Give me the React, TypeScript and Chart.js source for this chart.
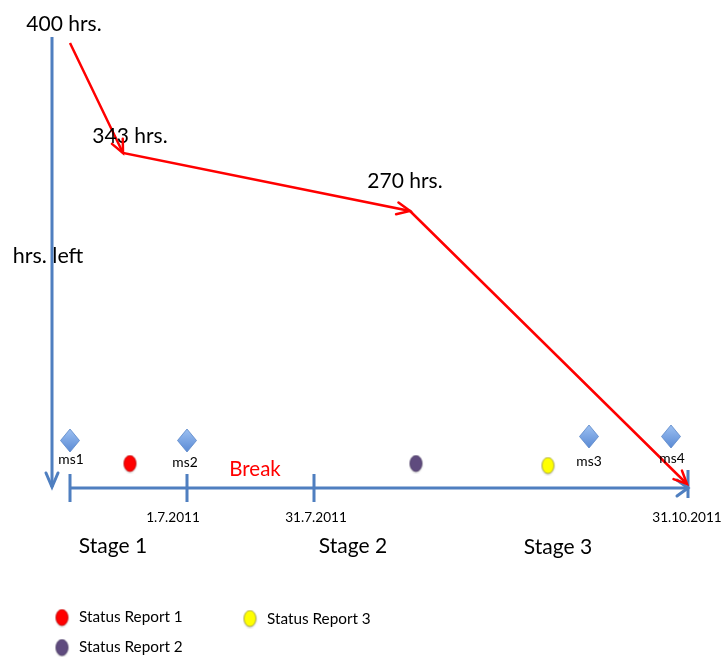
import React, { useEffect, useRef } from 'react';
import { Chart, registerables } from 'chart.js';

Chart.register(...registerables);

const W = 723;
const H = 657;
const FONT = 'Lato, "Open Sans", sans-serif';

// Schematic diagram coordinates (diagram units on both axes)
const burndownLabels = ['400 hrs.', '343 hrs.', '270 hrs.', ''];
const burndownX = [70, 123, 410, 687];
const burndownY = [43, 153, 211, 484];
const burndownLabelX = [64, 130, 405, 0];
const burndownLabelY = [24, 136, 181, 0];

const hoursAxisX = [52, 52];
const hoursAxisY = [37, 487];
const timeAxisX = [70, 688];
const timeAxisY = [488, 488];

const tickX = [70, 187, 314, 688];
const tickTop = [474, 474, 474, 470];
const tickBottom = [502, 502, 502, 498];
const dateLabels = ['', '1.7.2011', '31.7.2011', '31.10.2011'];
const dateLabelX = [0, 173, 316, 687];
const dateLabelY = 518;

const milestoneNames = ['ms1', 'ms2', 'ms3', 'ms4'];
const milestoneX = [70, 187, 589, 671];
const milestoneY = [441, 441, 437, 437];
const milestoneLabelX = [71, 185, 589, 672];
const milestoneLabelY = [460, 463, 462, 459];

const reportNames = ['Status Report 1', 'Status Report 2', 'Status Report 3'];
const reportColors = ['#ff0000', '#5f4b7e', '#ffff00'];
const reportBorders = ['#c00000', '#4a3a66', '#9a9a40'];
const reportX = [130, 416, 548];
const reportY = [464, 464, 466];

const legendX = [62, 62, 250];
const legendY = [618, 648, 619];
const legendTextX = [79, 79, 267];
const legendTextY = [617, 647, 619];

const stageNames = ['Stage 1', 'Stage 2', 'Stage 3'];
const stageX = [113, 353, 558];
const stageY = [546, 546, 547];

const breakLabel = 'Break';
const breakX = 255;
const breakY = 469;

const yAxisTitle = 'hrs. left';
const yAxisTitleX = 48;
const yAxisTitleY = 256;

const BLUE = '#4f7fc0';
const RED = '#ff0000';

function makeDiamond(): HTMLCanvasElement {
  const c = document.createElement('canvas');
  c.width = 22;
  c.height = 26;
  const g = c.getContext('2d')!;
  const grad = g.createLinearGradient(0, 1, 0, 24);
  grad.addColorStop(0, '#9cc0f2');
  grad.addColorStop(1, '#5a8ad4');
  g.beginPath();
  g.moveTo(11, 1);
  g.lineTo(20.5, 12.5);
  g.lineTo(11, 24);
  g.lineTo(1.5, 12.5);
  g.closePath();
  g.fillStyle = grad;
  g.fill();
  g.strokeStyle = '#5a86c8';
  g.lineWidth = 0.8;
  g.stroke();
  return c;
}

function makeEllipse(fill: string, border: string): HTMLCanvasElement {
  const c = document.createElement('canvas');
  c.width = 15;
  c.height = 19;
  const g = c.getContext('2d')!;
  g.shadowColor = 'rgba(0,0,0,0.25)';
  g.shadowBlur = 2;
  g.shadowOffsetY = 1;
  g.beginPath();
  g.ellipse(7.5, 9, 6, 8, 0, 0, Math.PI * 2);
  g.fillStyle = fill;
  g.fill();
  g.shadowColor = 'transparent';
  g.strokeStyle = border;
  g.lineWidth = 0.8;
  g.stroke();
  return c;
}

function chevron(ctx: CanvasRenderingContext2D, fx: number, fy: number, tx: number, ty: number, len: number, halfW: number, color: string, width: number) {
  const ang = Math.atan2(ty - fy, tx - fx);
  const bx = tx - Math.cos(ang) * len;
  const by = ty - Math.sin(ang) * len;
  const px = -Math.sin(ang) * halfW;
  const py = Math.cos(ang) * halfW;
  ctx.save();
  ctx.strokeStyle = color;
  ctx.lineWidth = width;
  ctx.lineCap = 'round';
  ctx.lineJoin = 'miter';
  ctx.beginPath();
  ctx.moveTo(bx + px, by + py);
  ctx.lineTo(tx, ty);
  ctx.lineTo(bx - px, by - py);
  ctx.stroke();
  ctx.restore();
}

const textPlugin = {
  id: 'diagramText',
  beforeDatasetsDraw(chart: any) {
    const { ctx, scales } = chart;
    const x = scales.x;
    const y = scales.y;
    ctx.save();
    ctx.textAlign = 'center';
    ctx.textBaseline = 'middle';
    ctx.fillStyle = '#000';
    ctx.font = `21.5px ${FONT}`;
    ctx.fillText(yAxisTitle, x.getPixelForValue(yAxisTitleX), y.getPixelForValue(yAxisTitleY));
    ctx.restore();
  },
  afterDatasetsDraw(chart: any) {
    const { ctx, scales } = chart;
    const x = scales.x;
    const y = scales.y;
    const draw = (t: string, vx: number, vy: number, font: string, color: string, align: CanvasTextAlign = 'center') => {
      if (!t) return;
      ctx.font = font;
      ctx.fillStyle = color;
      ctx.textAlign = align;
      ctx.fillText(t, x.getPixelForValue(vx), y.getPixelForValue(vy));
    };
    ctx.save();
    ctx.textBaseline = 'middle';
    burndownLabels.forEach((t, i) => draw(t, burndownLabelX[i], burndownLabelY[i], `21px ${FONT}`, '#000'));
    milestoneNames.forEach((t, i) => draw(t, milestoneLabelX[i], milestoneLabelY[i], `13.8px ${FONT}`, '#000'));
    dateLabels.forEach((t, i) => draw(t, dateLabelX[i], dateLabelY, `13.6px ${FONT}`, '#000'));
    stageNames.forEach((t, i) => draw(t, stageX[i], stageY[i], `21px ${FONT}`, '#000'));
    reportNames.forEach((t, i) => draw(t, legendTextX[i], legendTextY[i], `15.3px ${FONT}`, '#000', 'left'));
    draw(breakLabel, breakX, breakY, `20.5px ${FONT}`, RED);

    // arrowheads
    const px = (v: number) => x.getPixelForValue(v);
    const py = (v: number) => y.getPixelForValue(v);
    chevron(ctx, px(hoursAxisX[0]), py(hoursAxisY[0]), px(hoursAxisX[1]), py(hoursAxisY[1]), 14, 6, BLUE, 3);
    chevron(ctx, px(timeAxisX[0]), py(timeAxisY[0]), px(timeAxisX[1]), py(timeAxisY[1]), 11, 8, BLUE, 3);
    for (let i = 1; i < burndownX.length; i++) {
      chevron(ctx, px(burndownX[i - 1]), py(burndownY[i - 1]), px(burndownX[i]), py(burndownY[i]), 13, 6, RED, 2.5);
    }
    ctx.restore();
  },
};

export default function App() {
  const ref = useRef<HTMLCanvasElement | null>(null);

  useEffect(() => {
    if (!ref.current) return;
    const diamond = makeDiamond();
    const reportImgs = reportColors.map((c, i) => makeEllipse(c, reportBorders[i]));

    const lineDs = (xs: number[], ys: number[], color: string, width: number) => ({
      type: 'line' as const,
      data: xs.map((v, i) => ({ x: v, y: ys[i] })),
      borderColor: color,
      borderWidth: width,
      pointRadius: 0,
      showLine: true,
      fill: false,
      tension: 0,
      borderCapStyle: 'butt' as const,
      borderJoinStyle: 'miter' as const,
    });

    const datasets: any[] = [
      lineDs(hoursAxisX, hoursAxisY, BLUE, 3),
      lineDs(timeAxisX, timeAxisY, BLUE, 3),
      ...tickX.map((tx, i) => lineDs([tx, tx], [tickTop[i], tickBottom[i]], BLUE, 3)),
      {
        type: 'scatter',
        data: milestoneX.map((v, i) => ({ x: v, y: milestoneY[i] })),
        pointStyle: diamond,
        pointRadius: 11,
      },
      {
        type: 'scatter',
        data: reportX.map((v, i) => ({ x: v, y: reportY[i] })),
        pointStyle: reportImgs,
        pointRadius: 8,
      },
      {
        type: 'scatter',
        data: legendX.map((v, i) => ({ x: v, y: legendY[i] })),
        pointStyle: reportImgs,
        pointRadius: 8,
      },
      lineDs(burndownX, burndownY, RED, 2.5),
    ];

    const chart = new Chart(ref.current, {
      type: 'scatter',
      data: { datasets },
      options: {
        animation: false,
        responsive: false,
        events: [],
        layout: { padding: 0, autoPadding: false },
        plugins: { legend: { display: false }, tooltip: { enabled: false } },
        scales: {
          x: { type: 'linear', min: 0, max: W, display: false },
          y: { type: 'linear', min: 0, max: H, reverse: true, display: false },
        },
      },
      plugins: [textPlugin],
    });
    return () => chart.destroy();
  }, []);

  return (
    <div style={{ position: 'fixed', left: 0, top: 0, width: W, height: H, background: '#fff' }}>
      <canvas ref={ref} width={W} height={H} style={{ width: W, height: H, display: 'block' }} />
    </div>
  );
}
